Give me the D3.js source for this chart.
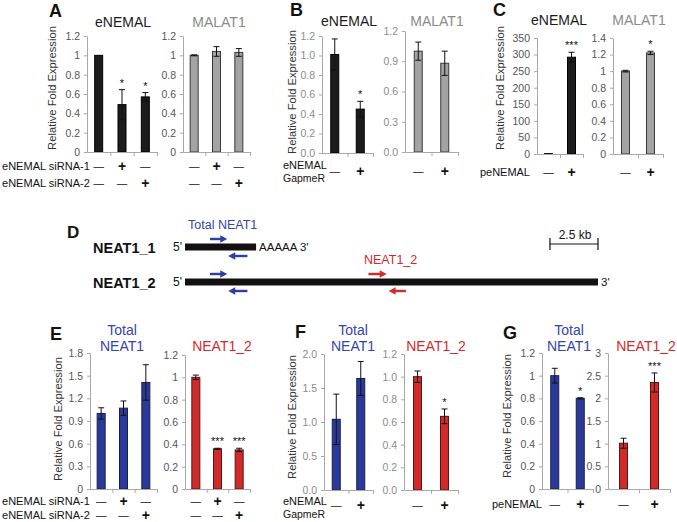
<!DOCTYPE html>
<html><head><meta charset="utf-8">
<script src="https://cdn.jsdelivr.net/npm/d3@7"></script>
<style>body{margin:0;background:#fff} svg{display:block}</style>
</head><body><svg id="c" width="677" height="522"></svg>
<script>
// ================= DATA =================
const knock3 = ["ctrl", "siRNA-1", "siRNA-2"];
const siRNA1Signs = ["—", "+", "—"];
const siRNA2Signs = ["—", "—", "+"];
const treat2 = ["ctrl", "treated"];
const treatSigns = ["—", "+"];

// Panel A (siRNA knockdown)
const aEnemal = [1.00, 0.49, 0.57];
const aEnemalErr = [0, 0.155, 0.045];
const aEnemalSig = ["", "*", "*"];
const aMalat = [1.00, 1.04, 1.03];
const aMalatErr = [0.005, 0.05, 0.04];
const aMalatSig = ["", "", ""];
const ticks12by02 = [0, 0.2, 0.4, 0.6, 0.8, 1.0, 1.2];

// Panel B (GapmeR)
const bEnemal = [1.01, 0.45];
const bEnemalErr = [0.16, 0.08];
const bEnemalSig = ["", "*"];
const bMalat = [1.00, 0.88];
const bMalatErr = [0.09, 0.12];
const bMalatSig = ["", ""];
const ticks12by03 = [0, 0.3, 0.6, 0.9, 1.2];

// Panel C (peNEMAL overexpression)
const cEnemal = [1, 292];
const cEnemalErr = [0.5, 15];
const cEnemalSig = ["", "***"];
const cMalat = [1.00, 1.22];
const cMalatErr = [0.01, 0.02];
const cMalatSig = ["", "*"];
const ticks350 = [0, 50, 100, 150, 200, 250, 300, 350];
const ticks14 = [0, 0.2, 0.4, 0.6, 0.8, 1.0, 1.2, 1.4];

// Panel D (NEAT1 isoforms, kb)
const transcriptNames = ["NEAT1_1", "NEAT1_2"];
const transcriptLenKb = [3.7, 21.5];
const transcriptTail = ["AAAAA 3'", "3'"];
const totalFwdKb = [1.3, 2.2];
const totalRevKb = [2.25, 3.25];
const n12FwdKb = [9.55, 10.5];
const n12RevKb = [10.6, 11.5];
const scaleBarKb = 2.5;

// Panel E
const eTotal = [1.00, 1.07, 1.41];
const eTotalErr = [0.075, 0.095, 0.235];
const eTotalSig = ["", "", ""];
const eN12 = [1.00, 0.36, 0.35];
const eN12Err = [0.02, 0.005, 0.015];
const eN12Sig = ["", "***", "***"];
const ticks18 = [0, 0.3, 0.6, 0.9, 1.2, 1.5, 1.8];

// Panel F
const fTotal = [1.04, 1.64];
const fTotalErr = [0.37, 0.25];
const fTotalSig = ["", ""];
const fN12 = [1.00, 0.65];
const fN12Err = [0.05, 0.065];
const fN12Sig = ["", "*"];
const ticks20 = [0, 0.5, 1.0, 1.5, 2.0];

// Panel G
const gTotal = [1.00, 0.80];
const gTotalErr = [0.065, 0.005];
const gTotalSig = ["", "*"];
const gN12 = [1.01, 2.35];
const gN12Err = [0.11, 0.21];
const gN12Sig = ["", "***"];
const ticks3 = [0, 0.5, 1, 1.5, 2, 2.5, 3];

// ================= STYLE =================
const FONT = "'Liberation Sans', Arial, Helvetica, sans-serif";
const BLACK_BAR = {fill: "#1c1c1c", stroke: "#000"};
const GREY_BAR = {fill: "#a3a3a3", stroke: "#3a3a3a"};
const BLUE_BAR = {fill: "#2b3a9a", stroke: "#1a1f4a"};
const RED_BAR = {fill: "#d02a2a", stroke: "#5a1414"};
const BLUE_TXT = "#3344aa", RED_TXT = "#d8282e", GREY_TXT = "#8a8a8a";
const AXIS = "#a8a8a8";
const trim = d => String(+d.toFixed(1));
const one = d3.format(".1f");
const int = d3.format("d");

const svg = d3.select("#c");

function chart(cfg) {
  const g = svg.append("g");
  const n = cfg.cats.length;
  const x = d3.scaleBand().domain(cfg.cats).range([cfg.x0, cfg.x1]);
  const y = d3.scaleLinear().domain([0, cfg.max]).range([cfg.y0, cfg.yTop]);
  const xb = d3.scaleLinear().domain([0, n]).range([cfg.x0, cfg.x1]);
  const bw = 8;

  g.selectAll("rect.bar").data(cfg.values).join("rect")
    .attr("x", (d, i) => x(cfg.cats[i]) + x.bandwidth() / 2 - bw / 2)
    .attr("y", d => y(d))
    .attr("width", bw)
    .attr("height", d => y(0) - y(d))
    .attr("fill", cfg.style.fill).attr("stroke", cfg.style.stroke).attr("stroke-width", 1);

  cfg.values.forEach((v, i) => {
    const e = cfg.errs[i];
    if (!e) return;
    const cx = x(cfg.cats[i]) + x.bandwidth() / 2;
    const lo = y(Math.max(0, v - e)), hi = y(v + e);
    const eg = g.append("g").attr("stroke", "#111").attr("stroke-width", 1);
    eg.append("line").attr("x1", cx).attr("x2", cx).attr("y1", hi).attr("y2", lo);
    eg.append("line").attr("x1", cx - 3).attr("x2", cx + 3).attr("y1", hi).attr("y2", hi);
    eg.append("line").attr("x1", cx - 3).attr("x2", cx + 3).attr("y1", lo).attr("y2", lo);
  });

  cfg.values.forEach((v, i) => {
    const s = cfg.sig[i];
    if (!s) return;
    const cx = x(cfg.cats[i]) + x.bandwidth() / 2;
    g.append("text").attr("x", cx).attr("y", y(v + (cfg.errs[i] || 0)) - 3)
      .attr("text-anchor", "middle").attr("font-family", FONT).attr("font-size", 11)
      .attr("fill", "#111").text(s);
  });

  const gy = g.append("g").attr("transform", `translate(${cfg.x0},0)`)
    .call(d3.axisLeft(y).tickValues(cfg.ticks).tickFormat(cfg.fmt).tickSizeInner(3).tickSizeOuter(0).tickPadding(4));
  gy.attr("font-family", FONT).attr("font-size", 10.5);
  gy.select(".domain").attr("stroke", AXIS);
  gy.selectAll(".tick line").attr("stroke", AXIS);
  gy.selectAll(".tick text").attr("fill", cfg.tickColor);

  const gx = g.append("g").attr("transform", `translate(0,${cfg.y0})`)
    .call(d3.axisBottom(xb).tickValues(d3.range(1, n + 1)).tickFormat("").tickSizeInner(4).tickSizeOuter(0));
  gx.select(".domain").attr("stroke", AXIS);
  gx.selectAll(".tick line").attr("stroke", AXIS);

  (cfg.signRows || []).forEach(r => {
    r.signs.forEach((s, i) => {
      const isPlus = s === "+";
      g.append("text").attr("x", x(cfg.cats[i]) + x.bandwidth() / 2).attr("y", r.y)
        .attr("text-anchor", "middle").attr("dominant-baseline", "central")
        .attr("font-family", FONT).attr("font-size", isPlus ? 14 : 10.5)
        .attr("font-weight", isPlus ? "bold" : null)
        .attr("fill", "#111").text(s);
    });
  });

  (cfg.title || []).forEach(t => {
    g.append("text").attr("x", t.x != null ? t.x : (cfg.x0 + cfg.x1) / 2).attr("y", t.y)
      .attr("text-anchor", "middle").attr("font-family", FONT).attr("font-size", 14)
      .attr("fill", t.color).text(t.text);
  });
}

function txt(x, y, s, opts = {}) {
  return svg.append("text").attr("x", x).attr("y", y).attr("font-family", FONT)
    .attr("font-size", opts.size || 11).attr("fill", opts.color || "#111")
    .attr("font-weight", opts.bold ? "bold" : null)
    .attr("text-anchor", opts.anchor || "start")
    .attr("dominant-baseline", opts.baseline || null)
    .text(s);
}
// row label sized so its width matches the reference
function rowLabel(x, y, s, w) {
  const t = txt(x, y, s, {baseline: "central"});
  const len = t.node().getComputedTextLength();
  if (len > 0) {
    const fs = Math.max(9, Math.min(13, 11 * w / len));
    t.attr("font-size", fs);
  }
  return t;
}
function yLabel(x, cy) {
  svg.append("text").attr("transform", `translate(${x},${cy}) rotate(-90)`)
    .attr("text-anchor", "middle").attr("dominant-baseline", "central")
    .attr("font-family", FONT).attr("font-size", 11.2).attr("fill", "#333")
    .text("Relative Fold Expression");
}

// ================= TOP ROW =================
txt(49, 17, "A", {size: 18, bold: true});
yLabel(52, 88);
chart({cats: knock3, values: aEnemal, errs: aEnemalErr, sig: aEnemalSig, style: BLACK_BAR,
  x0: 87, x1: 157, y0: 152, yTop: 36, max: 1.2, ticks: ticks12by02, fmt: trim, tickColor: "#555",
  signRows: [{signs: siRNA1Signs, y: 166}, {signs: siRNA2Signs, y: 183}],
  title: [{text: "eNEMAL", y: 27, color: "#1a1a1a", x: 123}]});
chart({cats: knock3, values: aMalat, errs: aMalatErr, sig: aMalatSig, style: GREY_BAR,
  x0: 183, x1: 250, y0: 152, yTop: 36, max: 1.2, ticks: ticks12by02, fmt: trim, tickColor: "#555",
  signRows: [{signs: siRNA1Signs, y: 166}, {signs: siRNA2Signs, y: 183}],
  title: [{text: "MALAT1", y: 27, color: GREY_TXT, x: 219}]});
rowLabel(2, 166, "eNEMAL siRNA-1", 88);
rowLabel(2, 183, "eNEMAL siRNA-2", 88);

txt(290, 16, "B", {size: 18, bold: true});
yLabel(292, 92);
chart({cats: treat2, values: bEnemal, errs: bEnemalErr, sig: bEnemalSig, style: BLACK_BAR,
  x0: 322, x1: 373, y0: 153, yTop: 36, max: 1.2, ticks: ticks12by02, fmt: one, tickColor: "#8c8c8c",
  signRows: [{signs: treatSigns, y: 171}],
  title: [{text: "eNEMAL", y: 26, color: "#1a1a1a", x: 349}]});
chart({cats: treat2, values: bMalat, errs: bMalatErr, sig: bMalatSig, style: GREY_BAR,
  x0: 405, x1: 458, y0: 152, yTop: 31, max: 1.2, ticks: ticks12by03, fmt: one, tickColor: "#8c8c8c",
  signRows: [{signs: treatSigns, y: 171}],
  title: [{text: "MALAT1", y: 26, color: GREY_TXT, x: 437}]});
rowLabel(283, 165, "eNEMAL", 44);
rowLabel(283, 178, "GapmeR", 42);

txt(493, 16, "C", {size: 18, bold: true});
yLabel(500, 88);
chart({cats: treat2, values: cEnemal, errs: cEnemalErr, sig: cEnemalSig, style: BLACK_BAR,
  x0: 537, x1: 583, y0: 154, yTop: 38, max: 350, ticks: ticks350, fmt: int, tickColor: "#555",
  signRows: [{signs: treatSigns, y: 172}],
  title: [{text: "eNEMAL", y: 25, color: "#1a1a1a", x: 559}]});
chart({cats: treat2, values: cMalat, errs: cMalatErr, sig: cMalatSig, style: GREY_BAR,
  x0: 613, x1: 663, y0: 154, yTop: 38, max: 1.4, ticks: ticks14, fmt: trim, tickColor: "#555",
  signRows: [{signs: treatSigns, y: 172}],
  title: [{text: "MALAT1", y: 25, color: GREY_TXT, x: 639}]});
rowLabel(480, 172, "peNEMAL", 50);

// ================= PANEL D =================
txt(67, 238, "D", {size: 17, bold: true});
const kb = d3.scaleLinear().domain([0, transcriptLenKb[1]]).range([185, 598]);
const rowY = [247, 282];
function arrow(x1, x2, y, color) {
  const dir = Math.sign(x2 - x1);
  svg.append("line").attr("x1", x1).attr("x2", x2 - dir * 5).attr("y1", y).attr("y2", y)
    .attr("stroke", color).attr("stroke-width", 2.4);
  svg.append("path").attr("d", `M${x2},${y} L${x2 - dir * 7},${y - 3.8} L${x2 - dir * 7},${y + 3.8} Z`)
    .attr("fill", color);
}
transcriptNames.forEach((name, i) => {
  const cy = rowY[i];
  txt(93, cy + 1, name, {size: 14.5, bold: true, baseline: "central"});
  txt(173, cy, "5'", {size: 12, baseline: "central"});
  svg.append("rect").attr("x", kb(0)).attr("y", cy - 3.5).attr("width", kb(transcriptLenKb[i]) - kb(0))
    .attr("height", 7).attr("fill", "#111");
  txt(kb(transcriptLenKb[i]) + 3, cy, transcriptTail[i], {size: 11.5, baseline: "central"});
  arrow(kb(totalFwdKb[0]), kb(totalFwdKb[1]), cy - 8, "#2f3fa0");
  arrow(kb(totalRevKb[1]), kb(totalRevKb[0]), cy + 9, "#2f3fa0");
});
arrow(kb(n12FwdKb[0]), kb(n12FwdKb[1]), rowY[1] - 8, "#d42a2a");
arrow(kb(n12RevKb[1]), kb(n12RevKb[0]), rowY[1] + 9, "#d42a2a");
txt(188, 229, "Total NEAT1", {size: 12.5, color: BLUE_TXT});
txt(364, 264, "NEAT1_2", {size: 12.5, color: RED_TXT});
const sbX1 = kb(transcriptLenKb[1]) - (kb(scaleBarKb) - kb(0)), sbX2 = kb(transcriptLenKb[1]), sbY = 244;
svg.append("path").attr("d", `M${sbX1},${sbY - 6}V${sbY + 6}M${sbX1},${sbY}H${sbX2}M${sbX2},${sbY - 6}V${sbY + 6}`)
  .attr("stroke", "#111").attr("stroke-width", 1.2).attr("fill", "none");
txt((sbX1 + sbX2) / 2 + 1, 239, "2.5 kb", {size: 12, anchor: "middle"});

// ================= BOTTOM ROW =================
txt(50, 340, "E", {size: 18, bold: true});
yLabel(58, 419);
chart({cats: knock3, values: eTotal, errs: eTotalErr, sig: eTotalSig, style: BLUE_BAR,
  x0: 90, x1: 157, y0: 489, yTop: 353, max: 1.8, ticks: ticks18, fmt: trim, tickColor: "#555",
  signRows: [{signs: siRNA1Signs, y: 501}, {signs: siRNA2Signs, y: 515}],
  title: [{text: "Total", y: 335, color: BLUE_TXT, x: 122}, {text: "NEAT1", y: 351, color: BLUE_TXT, x: 122}]});
chart({cats: knock3, values: eN12, errs: eN12Err, sig: eN12Sig, style: RED_BAR,
  x0: 185, x1: 250, y0: 489, yTop: 355, max: 1.2, ticks: ticks12by02, fmt: trim, tickColor: "#555",
  signRows: [{signs: siRNA1Signs, y: 501}, {signs: siRNA2Signs, y: 515}],
  title: [{text: "NEAT1_2", y: 351, color: RED_TXT, x: 222}]});
rowLabel(2, 501, "eNEMAL siRNA-1", 88);
rowLabel(2, 515, "eNEMAL siRNA-2", 88);

txt(295, 338, "F", {size: 18, bold: true});
yLabel(292, 417);
chart({cats: treat2, values: fTotal, errs: fTotalErr, sig: fTotalSig, style: BLUE_BAR,
  x0: 324, x1: 373, y0: 490, yTop: 354, max: 2.0, ticks: ticks20, fmt: one, tickColor: "#8c8c8c",
  signRows: [{signs: treatSigns, y: 505}],
  title: [{text: "Total", y: 335, color: BLUE_TXT, x: 353}, {text: "NEAT1", y: 351, color: BLUE_TXT, x: 353}]});
chart({cats: treat2, values: fN12, errs: fN12Err, sig: fN12Sig, style: RED_BAR,
  x0: 404, x1: 458, y0: 490, yTop: 354, max: 1.2, ticks: ticks12by02, fmt: one, tickColor: "#8c8c8c",
  signRows: [{signs: treatSigns, y: 505}],
  title: [{text: "NEAT1_2", y: 351, color: RED_TXT, x: 436}]});
rowLabel(283, 501, "eNEMAL", 44);
rowLabel(283, 514, "GapmeR", 42);

txt(503, 339, "G", {size: 18, bold: true});
yLabel(507, 416);
chart({cats: treat2, values: gTotal, errs: gTotalErr, sig: gTotalSig, style: BLUE_BAR,
  x0: 542, x1: 593, y0: 489, yTop: 353, max: 1.2, ticks: ticks12by02, fmt: trim, tickColor: "#555",
  signRows: [{signs: treatSigns, y: 504}],
  title: [{text: "Total", y: 335, color: BLUE_TXT, x: 569}, {text: "NEAT1", y: 351, color: BLUE_TXT, x: 569}]});
chart({cats: treat2, values: gN12, errs: gN12Err, sig: gN12Sig, style: RED_BAR,
  x0: 608, x1: 670, y0: 489, yTop: 353, max: 3, ticks: ticks3, fmt: trim, tickColor: "#555",
  signRows: [{signs: treatSigns, y: 504}],
  title: [{text: "NEAT1_2", y: 351, color: RED_TXT, x: 646}]});
rowLabel(492, 504, "peNEMAL", 50);
</script></body></html>
